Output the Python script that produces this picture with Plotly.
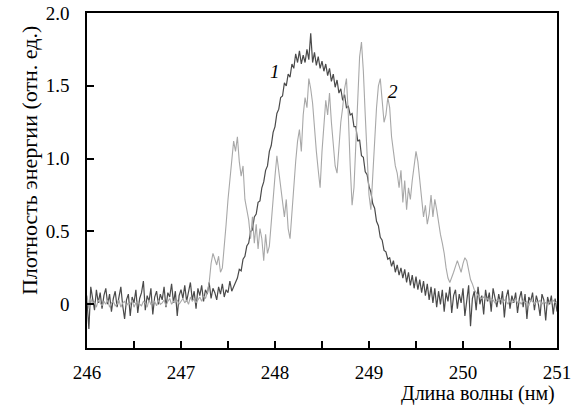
import plotly.graph_objects as go

# Wavelength grid (nm): start and step of the sampled spectra
WL_START = 246.0
WL_STEP = 0.02

# Curve 1 (dark), energy density, rel. units, 246.00 ... 251.00 nm
curve1 = [
    0.02, -0.17, 0.12, 0.05, -0.04, 0.10, 0.01, 0.08, -0.03, 0.06,
    0.11, 0.00, 0.07, -0.05, 0.04, 0.09, -0.02, 0.05, 0.12, -0.01,
    -0.10, 0.03, 0.07, -0.08, 0.05, 0.01, 0.10, -0.06, 0.04, 0.08,
    0.16, -0.04, 0.06, 0.02, 0.11, -0.07, 0.05, 0.09, 0.00, 0.07,
    0.03, 0.12, -0.02, 0.08, 0.05, 0.14, 0.01, 0.09, -0.08, 0.06,
    0.10, 0.04, 0.13, 0.02, 0.08, 0.15, 0.03, 0.09, -0.03, 0.11,
    0.06, 0.13, 0.02, 0.10, 0.07, 0.15, 0.04, 0.11, 0.08, 0.03,
    0.12, 0.07, 0.14, 0.05, 0.10, 0.08, 0.16, 0.09, 0.12, 0.15,
    0.18, 0.24, 0.23, 0.31, 0.33, 0.40, 0.42, 0.50, 0.51, 0.60,
    0.62, 0.70, 0.71, 0.80, 0.84, 0.92, 0.95, 1.05, 1.09, 1.18,
    1.22, 1.31, 1.34, 1.42, 1.43, 1.52, 1.50, 1.58, 1.56, 1.65,
    1.62, 1.72, 1.66, 1.74, 1.65, 1.71, 1.66, 1.75, 1.68, 1.86,
    1.66, 1.73, 1.64, 1.70, 1.62, 1.67, 1.60, 1.65, 1.57, 1.62,
    1.53, 1.58, 1.49, 1.54, 1.45, 1.48, 1.40, 1.44, 1.35, 1.36,
    1.30, 1.31, 1.22, 1.22, 1.12, 1.13, 1.02, 1.01, 0.91, 0.89,
    0.81, 0.77, 0.69, 0.66, 0.57, 0.54, 0.46, 0.44, 0.37, 0.36,
    0.31, 0.32, 0.26, 0.30, 0.22, 0.27, 0.20, 0.25, 0.18, 0.24,
    0.15, 0.22, 0.13, 0.20, 0.11, 0.19, 0.10, 0.17, 0.08, 0.16,
    0.06, 0.14, 0.03, 0.12, 0.01, 0.11, -0.02, 0.09, 0.00, 0.10,
    -0.05, 0.08, 0.02, 0.12, -0.06, 0.06, 0.10, -0.03, 0.07, 0.01,
    0.11, -0.08, 0.05, 0.13, -0.15, 0.04, 0.09, -0.04, 0.12, 0.00,
    0.06, -0.07, 0.10, 0.02, 0.08, -0.05, 0.11, 0.03, -0.02, 0.07,
    0.00, 0.09, -0.09, 0.05, 0.10, -0.03, 0.06, 0.01, 0.08, -0.06,
    0.04, 0.09, -0.02, 0.07, -0.10, 0.05, 0.02, 0.08, -0.04, 0.06,
    0.01, -0.08, 0.07, 0.03, -0.11, 0.05, 0.00, 0.06, -0.07, 0.04,
    -0.05,
]

# Curve 2 (light), energy density, rel. units, 246.00 ... 251.00 nm
curve2 = [
    0.06, -0.03, 0.04, 0.00, 0.02, -0.02, 0.03, 0.01, -0.01, 0.02,
    0.00, 0.03, -0.02, 0.01, 0.02, -0.01, 0.00, 0.03, -0.02, 0.01,
    0.02, -0.01, 0.01, 0.00, 0.03, -0.02, 0.01, 0.02, 0.00, -0.01,
    0.02, 0.01, -0.02, 0.03, 0.00, 0.01, 0.02, -0.01, 0.03, 0.00,
    0.01, 0.03, -0.01, 0.02, 0.04, 0.00, 0.02, 0.01, 0.03, 0.00,
    0.02, 0.04, 0.01, 0.03, 0.00, 0.05, 0.02, 0.04, 0.01, 0.03,
    0.05, 0.02, 0.06, 0.04, 0.08,
    0.15, 0.28, 0.35, 0.30, 0.27, 0.33, 0.22, 0.25, 0.38, 0.55,
    0.72, 0.85, 0.95, 1.12, 1.05,
    1.15, 0.98, 0.88, 0.95, 0.72, 0.65, 0.58, 0.45, 0.60, 0.42,
    0.55, 0.38, 0.52, 0.45, 0.30, 0.48, 0.35, 0.40, 0.58, 0.75,
    0.88, 1.02, 0.92, 0.78, 0.70, 0.60, 0.72, 0.52, 0.45, 0.62,
    0.85, 0.98, 1.12, 1.20, 1.05, 1.30, 1.42, 1.35, 1.55, 1.48,
    1.38, 1.20, 1.05, 0.92, 0.80, 1.05, 1.22, 1.40, 1.30, 1.45,
    1.25, 1.10, 0.95, 0.90, 1.10, 1.25, 1.35, 1.48, 1.55, 1.30,
    0.95, 0.68, 0.80, 1.10, 1.45, 1.70, 1.80, 1.60, 1.30, 1.00,
    0.75, 0.65, 0.90, 1.15, 1.35, 1.50, 1.55, 1.40, 1.25, 1.30,
    1.42, 1.35, 1.15, 1.05, 0.95, 0.90, 0.80, 0.92, 0.70, 0.85,
    0.65, 0.80, 0.72, 0.85, 0.95, 1.05, 0.98, 0.85, 0.72, 0.60,
    0.68, 0.55, 0.62, 0.75, 0.60, 0.72, 0.65, 0.55, 0.48, 0.42,
    0.35, 0.25, 0.18, 0.15, 0.18, 0.22, 0.26, 0.30, 0.26, 0.22,
    0.28, 0.32, 0.30, 0.22, 0.17, 0.14, 0.10, 0.08, 0.06, 0.05,
    0.04, 0.05, 0.03, 0.04, 0.02, 0.04, 0.03, 0.01, 0.03, 0.02,
    0.04, 0.01, 0.03, 0.02, 0.00, 0.03, 0.01, 0.02, 0.04, 0.01,
    0.02, 0.00, 0.03, 0.01, 0.02, -0.01, 0.03, 0.02, 0.00, 0.02,
    0.01, 0.03, 0.00, 0.02, 0.01, -0.01, 0.02, 0.00, 0.03, 0.01,
    0.02,
]

x_tickvals = [246, 246.5, 247, 247.5, 248, 248.5, 249, 249.5, 250, 250.5, 251]
x_ticktext = ["246", "", "247", "", "248", "", "249", "", "250", "", "251"]
y_tickvals = [0, 0.5, 1.0, 1.5, 2.0]
y_ticktext = ["0", "0.5", "1.0", "1.5", "2.0"]

curve_labels = ["1", "2"]
label_x = [248.0, 249.25]
label_y = [1.60, 1.46]

FONT = "Liberation Serif, Times New Roman, serif"

wl1 = [WL_START + WL_STEP * i for i in range(len(curve1))]
wl2 = [WL_START + WL_STEP * i for i in range(len(curve2))]

fig = go.Figure()
fig.add_trace(go.Scatter(x=wl1, y=curve1, mode="lines",
                         line=dict(color="#4a4a4a", width=1.2), showlegend=False))
fig.add_trace(go.Scatter(x=wl2, y=curve2, mode="lines",
                         line=dict(color="#a8a8a8", width=1.1), showlegend=False))

for t, xx, yy in zip(curve_labels, label_x, label_y):
    fig.add_annotation(x=xx, y=yy, text="<i>%s</i>" % t, showarrow=False,
                       font=dict(family=FONT, size=19, color="black"))

fig.add_annotation(xref="paper", yref="paper", x=1.0, y=-0.176,
                   xanchor="right", yanchor="bottom", showarrow=False,
                   text="Длина волны (нм)",
                   font=dict(family=FONT, size=20, color="black"))
fig.add_annotation(xref="paper", yref="paper", x=-0.122, y=0.56,
                   xanchor="center", yanchor="middle", showarrow=False,
                   textangle=-90, text="Плотность энергии (отн. ед.)",
                   font=dict(family=FONT, size=22, color="black"))

fig.update_layout(
    width=573, height=408,
    margin=dict(l=87, r=16, t=13, b=60, autoexpand=False),
    paper_bgcolor="white", plot_bgcolor="white",
    font=dict(family=FONT, size=19, color="black"),
    xaxis=dict(range=[246, 251], tickvals=x_tickvals, ticktext=x_ticktext,
               ticks="inside", ticklen=7, tickwidth=1.5, tickcolor="black",
               showline=True, linecolor="black", linewidth=1.5, mirror=True,
               showgrid=False, zeroline=False, ticklabelstandoff=6,
               automargin=False),
    yaxis=dict(range=[-0.3, 2.0], tickvals=y_tickvals, ticktext=y_ticktext,
               ticks="inside", ticklen=7, tickwidth=1.5, tickcolor="black",
               showline=True, linecolor="black", linewidth=1.5, mirror=True,
               showgrid=False, zeroline=False, ticklabelstandoff=12,
               automargin=False),
)

fig.write_html("out.html", config={"displayModeBar": False},
               post_script="document.body.style.margin='0';document.body.style.padding='0';")
